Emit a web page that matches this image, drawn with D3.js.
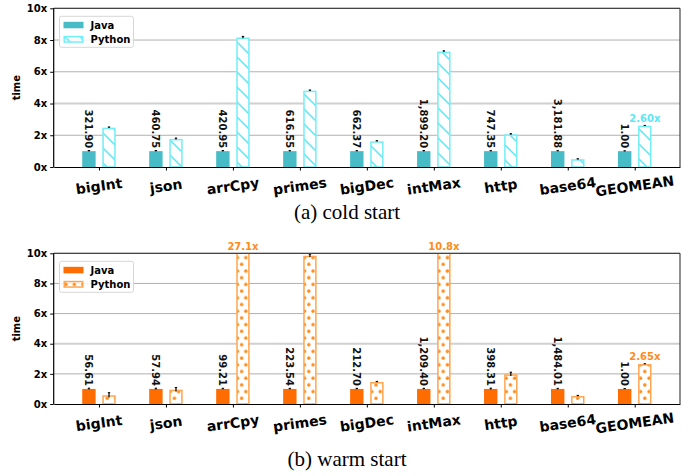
<!DOCTYPE html>
<html lang="en">
<head>
    <meta charset="UTF-8">
    <title>cold / warm start</title>
    <script src="https://cdn.jsdelivr.net/npm/d3@7"></script>
    <style>
        body { margin: 0; background: #fff; }
        text { font-family: "DejaVu Sans", sans-serif; }
        text.caption { font-family: "Liberation Serif", "Times New Roman", serif; }
    </style>
</head>
<body>
<div id="chart"></div>
<script>
// Data
var benchmarks = ["bigInt", "json", "arrCpy", "primes", "bigDec", "intMax", "http", "base64", "GEOMEAN"];
var yTicks = [0, 2, 4, 6, 8, 10];
var yTickLabels = ["0x", "2x", "4x", "6x", "8x", "10x"];

var coldJava = [1, 1, 1, 1, 1, 1, 1, 1, 1];
var coldJavaErr = [0.02, 0.02, 0.02, 0.01, 0.01, 0.02, 0.01, 0.01, 0];
var coldPython = [2.48, 1.77, 8.16, 4.81, 1.62, 7.27, 2.06, 0.49, 2.60];
var coldPythonErr = [0.02, 0.03, 0.05, 0.02, 0.02, 0.03, 0.02, 0.01, 0];
var coldJavaTimes = ["321.90", "460.75", "420.95", "616.55", "662.37", "1,899.20", "747.35", "3,181.88", "1.00"];

var warmJava = [1, 1, 1, 1, 1, 1, 1, 1, 1];
var warmJavaErr = [0.03, 0.03, 0.02, 0.02, 0.02, 0.02, 0.03, 0.02, 0];
var warmPython = [0.58, 0.95, 27.1, 9.84, 1.46, 10.8, 1.97, 0.53, 2.65];
var warmPythonErr = [0.15, 0.12, 0.05, 0.08, 0.02, 0.05, 0.12, 0.02, 0];
var warmJavaTimes = ["56.61", "57.94", "99.21", "223.54", "212.70", "1,209.40", "398.31", "1,484.01", "1.00"];

var width = 690, height = 476;

var svg = d3.select("#chart").append("svg")
    .attr("width", width)
    .attr("height", height);

var defs = svg.append("defs");

// hatch for cold python bars
var hatch = defs.append("pattern")
    .attr("id", "hatchCold")
    .attr("patternUnits", "userSpaceOnUse")
    .attr("width", 15).attr("height", 15);
hatch.append("path")
    .attr("d", "M0,0 L15,15 M13,-2 L17,2 M-2,13 L2,17")
    .attr("stroke", "#5ee6f2")
    .attr("stroke-width", 1.5);

// dots for warm python bars
var dots = defs.append("pattern")
    .attr("id", "dotsWarm")
    .attr("patternUnits", "userSpaceOnUse")
    .attr("width", 8.4).attr("height", 13.4);
dots.append("circle").attr("cx", 2.2).attr("cy", 3).attr("r", 1.7).attr("fill", "#ff8c1a");
dots.append("circle").attr("cx", 6.4).attr("cy", 9.7).attr("r", 1.7).attr("fill", "#ff8c1a");

var panels = [
    {
        id: "cold", top: 8.3, bottom: 167, caption: "(a) cold start", captionY: 219,
        java: coldJava, javaErr: coldJavaErr, python: coldPython, pythonErr: coldPythonErr,
        times: coldJavaTimes,
        javaColor: "#48bcc6", pyEdge: "#72eef7", pyFill: "url(#hatchCold)", labelColor: "#5ee6f5"
    },
    {
        id: "warm", top: 253.3, bottom: 404, caption: "(b) warm start", captionY: 466,
        java: warmJava, javaErr: warmJavaErr, python: warmPython, pythonErr: warmPythonErr,
        times: warmJavaTimes,
        javaColor: "#ff6c00", pyEdge: "#ffa54f", pyFill: "url(#dotsWarm)", labelColor: "#ff8c1a"
    }
];

var left = 53.7, right = 680;
var x = d3.scaleLinear().domain([-0.676, benchmarks.length - 1 + 0.676]).range([left, right]);
var barW = 0.2, javaOff = -0.25, pyOff = 0.05;

panels.forEach(function (p) {
    var y = d3.scaleLinear().domain([0, 10]).range([p.bottom, p.top]);
    var g = svg.append("g");

    defs.append("clipPath").attr("id", "clip-" + p.id)
        .append("rect")
        .attr("x", left).attr("y", p.top)
        .attr("width", right - left).attr("height", p.bottom - p.top);

    // grid
    g.selectAll(".grid")
        .data(yTicks.slice(1))
        .enter().append("line")
        .attr("x1", left).attr("x2", right)
        .attr("y1", function (d) { return y(d); })
        .attr("y2", function (d) { return y(d); })
        .attr("stroke", function (d) { return d === 4 ? "#d0d0d0" : "#b0b0b0"; })
        .attr("stroke-width", function (d) { return d === 4 ? 2 : 1; });

    var bars = g.append("g").attr("clip-path", "url(#clip-" + p.id + ")");

    // java bars
    bars.selectAll(".java")
        .data(p.java)
        .enter().append("rect")
        .attr("x", function (d, i) { return x(i + javaOff); })
        .attr("width", x(barW) - x(0))
        .attr("y", function (d) { return y(d); })
        .attr("height", function (d) { return y(0) - y(d); })
        .attr("fill", p.javaColor);

    // python bars
    bars.selectAll(".py")
        .data(p.python)
        .enter().append("rect")
        .attr("x", function (d, i) { return x(i + pyOff) + 0.75; })
        .attr("width", x(barW) - x(0) - 1.5)
        .attr("y", function (d) { return y(d) + 0.75; })
        .attr("height", function (d) { return Math.max(0, y(0) - y(d) - 0.75); })
        .attr("fill", "#fff");
    bars.selectAll(".pyh")
        .data(p.python)
        .enter().append("rect")
        .attr("x", function (d, i) { return x(i + pyOff) + 0.75; })
        .attr("width", x(barW) - x(0) - 1.5)
        .attr("y", function (d) { return y(d) + 0.75; })
        .attr("height", function (d) { return Math.max(0, y(0) - y(d) - 0.75); })
        .attr("fill", p.pyFill)
        .attr("stroke", p.pyEdge)
        .attr("stroke-width", 1.5);

    // error bars
    function errBars(vals, errs, off) {
        bars.selectAll(null)
            .data(vals)
            .enter().append("line")
            .attr("x1", function (d, i) { return x(i + off + barW / 2); })
            .attr("x2", function (d, i) { return x(i + off + barW / 2); })
            .attr("y1", function (d, i) { return y(d - errs[i]); })
            .attr("y2", function (d, i) { return y(d + errs[i]) - 0.6; })
            .attr("stroke", "#000")
            .attr("stroke-width", 1.2);
        bars.selectAll(null)
            .data(vals)
            .enter().append("line")
            .attr("x1", function (d, i) { return x(i + off + barW / 2) - 1.2; })
            .attr("x2", function (d, i) { return x(i + off + barW / 2) + 1.2; })
            .attr("y1", function (d, i) { return y(d + errs[i]) - 0.3; })
            .attr("y2", function (d, i) { return y(d + errs[i]) - 0.3; })
            .attr("stroke", "#000")
            .attr("stroke-width", 1);
    }
    errBars(p.java, p.javaErr, javaOff);
    errBars(p.python, p.pythonErr, pyOff);

    // spines
    g.append("line").attr("x1", left).attr("x2", right).attr("y1", p.top).attr("y2", p.top)
        .attr("stroke", "#444").attr("stroke-width", 1.2);
    g.append("line").attr("x1", right).attr("x2", right).attr("y1", p.top).attr("y2", p.bottom)
        .attr("stroke", "#444").attr("stroke-width", 1.2);

    // axes
    var yAxis = d3.axisLeft(y).tickValues(yTicks)
        .tickFormat(function (d, i) { return yTickLabels[i]; })
        .tickSize(3.5).tickPadding(3);
    var ya = g.append("g").attr("transform", "translate(" + left + ",0)").call(yAxis);
    var xAxis = d3.axisBottom(x).tickValues(d3.range(benchmarks.length))
        .tickFormat("").tickSize(3.5).tickSizeOuter(0);
    var xa = g.append("g").attr("transform", "translate(0," + p.bottom + ")").call(xAxis);
    [ya, xa].forEach(function (a) {
        a.select(".domain").attr("stroke", "#000").attr("stroke-width", 1.2);
        a.selectAll(".tick line").attr("stroke", "#000").attr("stroke-width", 1);
    });
    ya.select(".domain").attr("d", "M0," + p.bottom + "V" + p.top);
    ya.selectAll(".tick text")
        .attr("font-size", 10).attr("font-weight", "bold")
        .attr("font-family", "DejaVu Sans").attr("fill", "#000");

    // x labels, tilted
    g.selectAll(".xl")
        .data(benchmarks)
        .enter().append("text")
        .attr("x", function (d, i) { return x(i); })
        .attr("y", p.bottom + 24)
        .attr("text-anchor", "middle")
        .attr("font-size", 14).attr("font-weight", "bold")
        .attr("transform", function (d, i) { return "rotate(-8," + x(i) + "," + (p.bottom + 19) + ")"; })
        .text(function (d) { return d; });

    // y label
    g.append("text")
        .attr("transform", "translate(20," + ((p.top + p.bottom) / 2) + ") rotate(-90)")
        .attr("text-anchor", "middle")
        .attr("font-size", 10).attr("font-weight", "bold")
        .text("time");

    // java absolute times, vertical
    g.selectAll(".jt")
        .data(p.times)
        .enter().append("text")
        .attr("transform", function (d, i) {
            return "translate(" + x(i + javaOff + barW / 2) + "," + (y(p.java[i]) - 3) + ") rotate(90)";
        })
        .attr("text-anchor", "end")
        .attr("dy", "0.35em")
        .attr("font-size", 10).attr("font-weight", "bold")
        .attr("fill", "#111")
        .text(function (d) { return d; });

    // python labels: geomean and clipped bars
    p.python.forEach(function (v, i) {
        var last = i === benchmarks.length - 1;
        if (!last && v <= 10) return;
        g.append("text")
            .attr("x", x(i + pyOff + barW / 2))
            .attr("y", last ? y(v) - 4 : p.top - 3)
            .attr("text-anchor", "middle")
            .attr("font-size", 10).attr("font-weight", "bold")
            .attr("fill", p.labelColor)
            .text(last ? v.toFixed(2) + "x" : v.toFixed(1) + "x");
    });

    // legend
    var lg = g.append("g").attr("transform", "translate(59.5," + (p.top + 8) + ")");
    lg.append("rect").attr("width", 74).attr("height", 31).attr("rx", 2)
        .attr("fill", "#fff").attr("fill-opacity", 0.85)
        .attr("stroke", "#d6d6d6").attr("stroke-width", 1);
    lg.append("rect").attr("x", 4).attr("y", 5.5).attr("width", 20).attr("height", 6.5)
        .attr("fill", p.javaColor);
    lg.append("rect").attr("x", 4.75).attr("y", 20.25).attr("width", 18.5).attr("height", 5.5)
        .attr("fill", p.pyFill).attr("stroke", p.pyEdge).attr("stroke-width", 1.5);
    lg.append("text").attr("x", 31).attr("y", 12.3).attr("font-size", 10).attr("font-weight", "bold").text("Java");
    lg.append("text").attr("x", 31).attr("y", 26.8).attr("font-size", 10).attr("font-weight", "bold").text("Python");

    // caption
    svg.append("text")
        .attr("class", "caption")
        .attr("x", 347).attr("y", p.captionY)
        .attr("text-anchor", "middle")
        .attr("font-size", 21)
        .text(p.caption);
});
</script>
</body>
</html>
